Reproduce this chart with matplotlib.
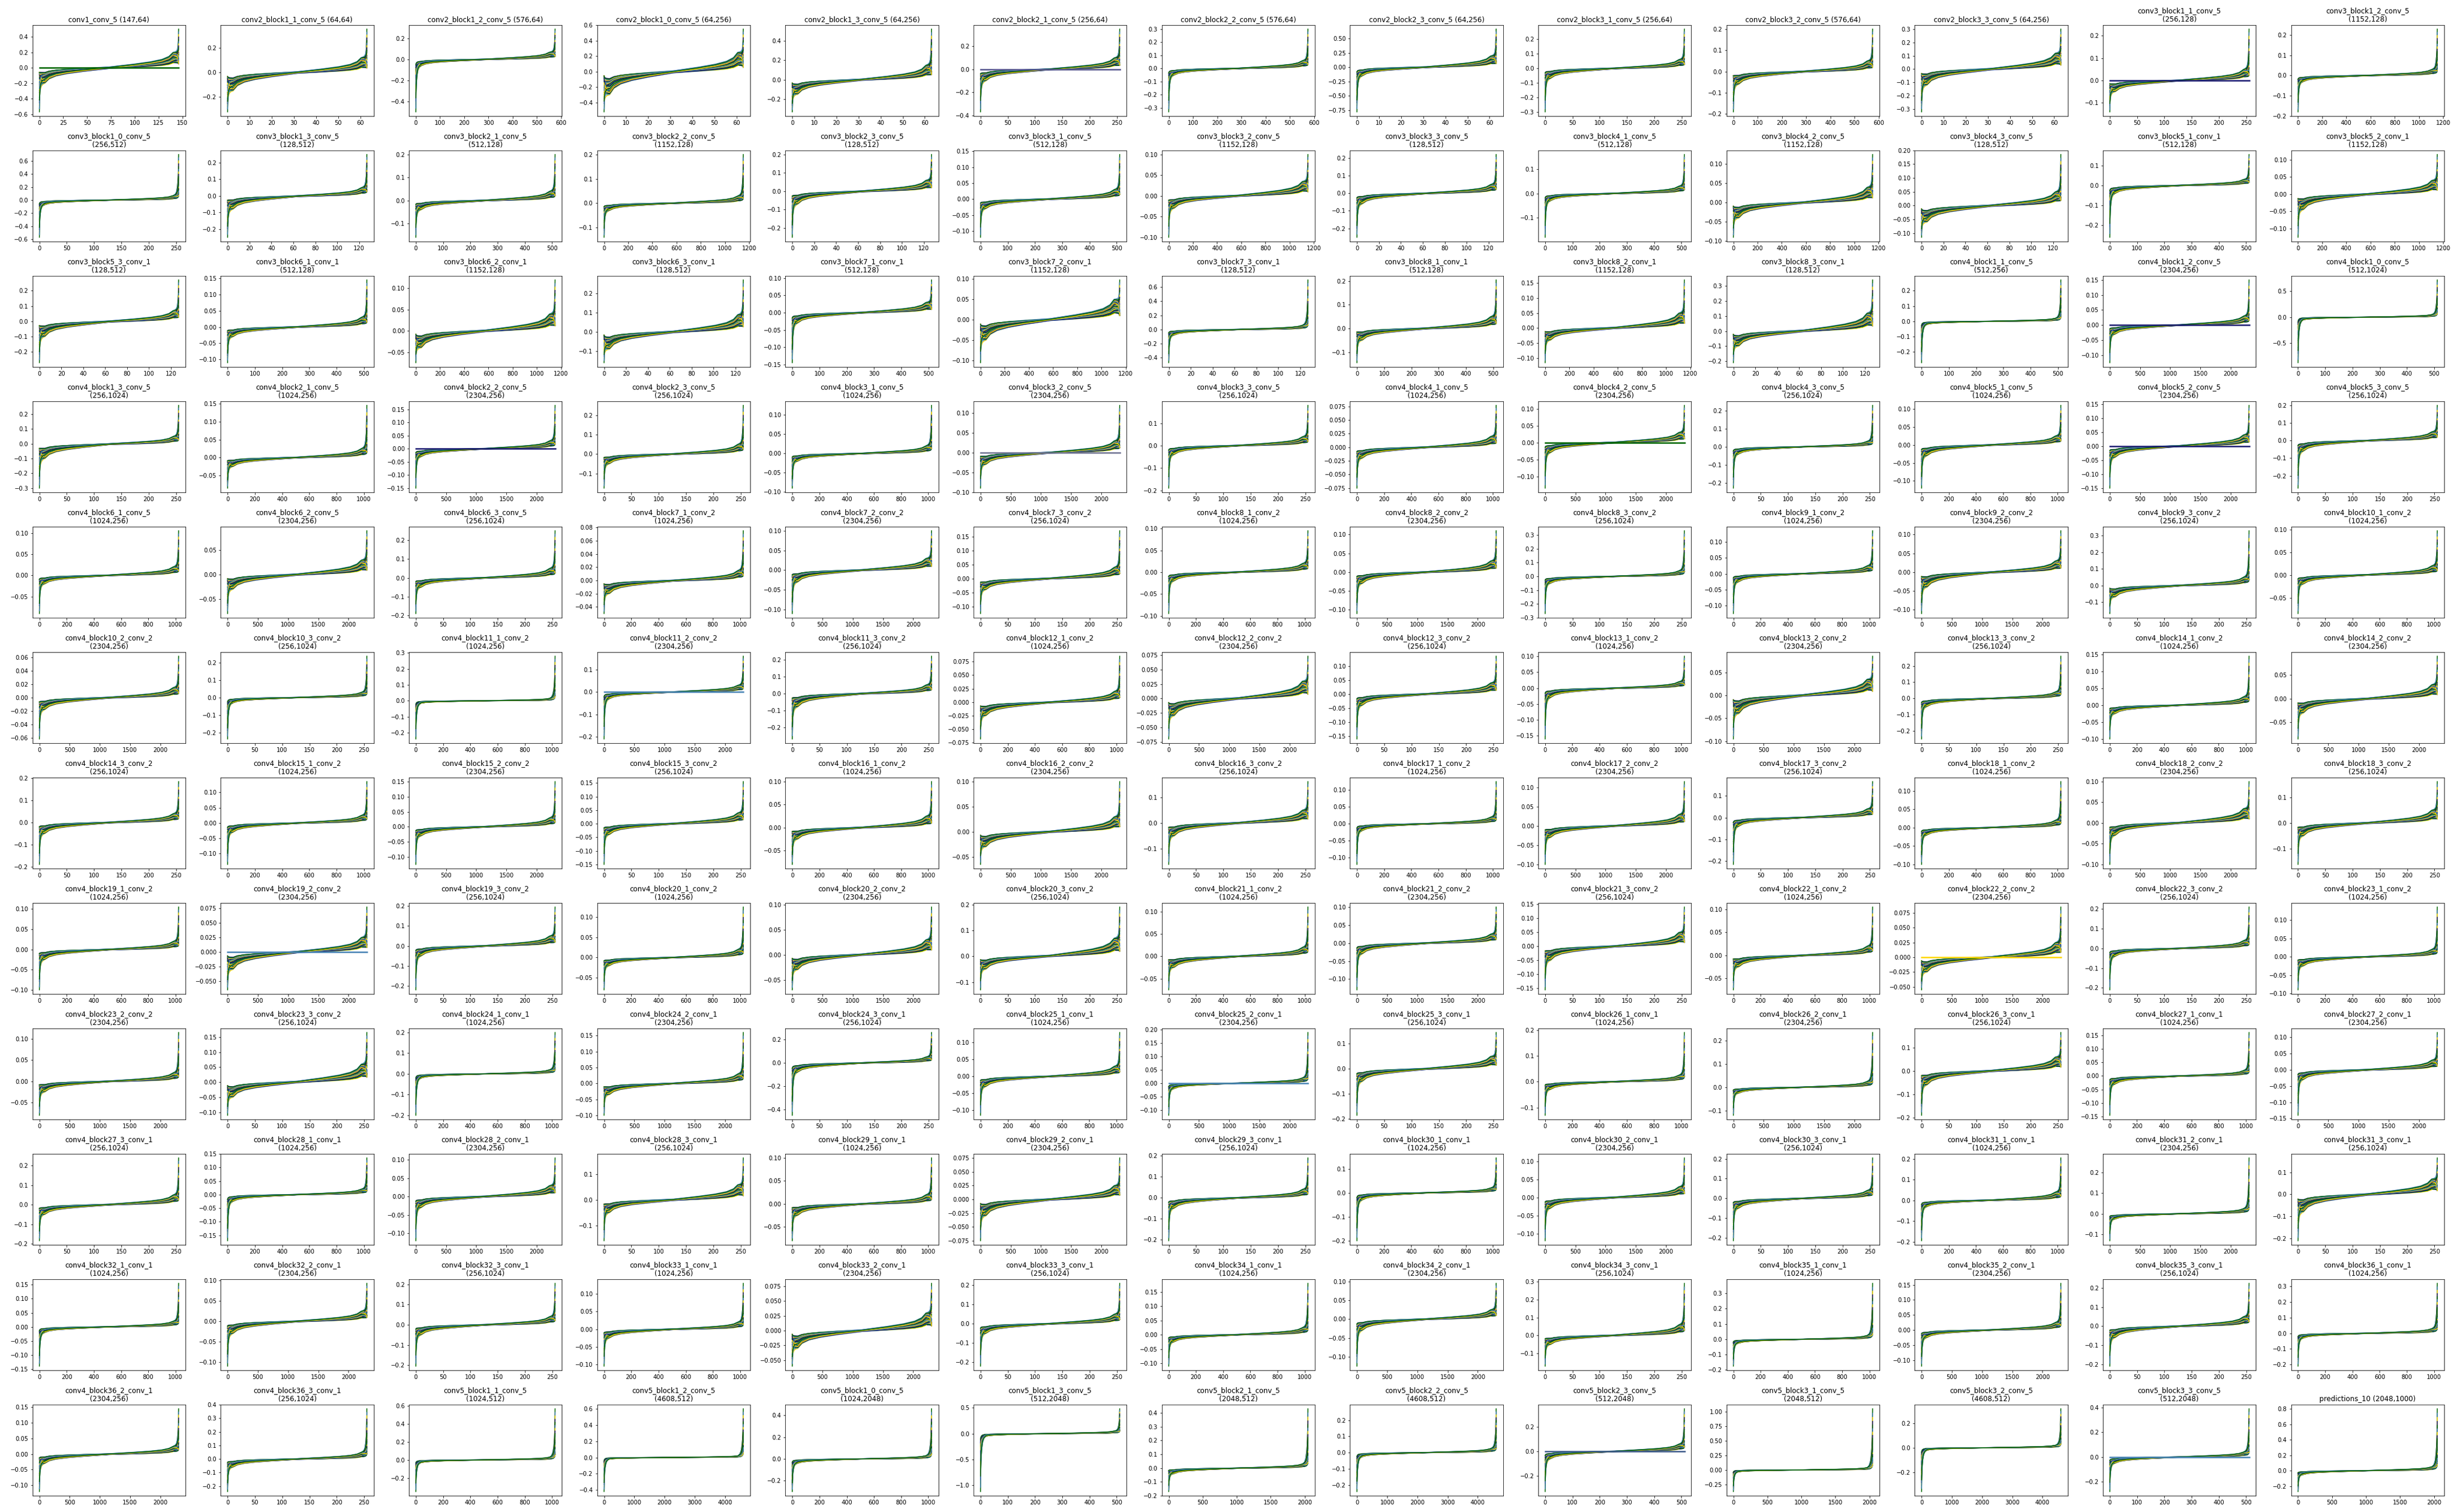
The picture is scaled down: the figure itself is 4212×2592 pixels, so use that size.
import numpy as np
import matplotlib
matplotlib.use("Agg")
import matplotlib.pyplot as plt

# ---------------- data ----------------
names = [
    "conv1_conv_5", "conv2_block1_1_conv_5", "conv2_block1_2_conv_5", "conv2_block1_0_conv_5", "conv2_block1_3_conv_5",
    "conv2_block2_1_conv_5", "conv2_block2_2_conv_5", "conv2_block2_3_conv_5", "conv2_block3_1_conv_5", "conv2_block3_2_conv_5",
    "conv2_block3_3_conv_5", "conv3_block1_1_conv_5", "conv3_block1_2_conv_5",
    "conv3_block1_0_conv_5", "conv3_block1_3_conv_5", "conv3_block2_1_conv_5", "conv3_block2_2_conv_5", "conv3_block2_3_conv_5",
    "conv3_block3_1_conv_5", "conv3_block3_2_conv_5", "conv3_block3_3_conv_5", "conv3_block4_1_conv_5", "conv3_block4_2_conv_5",
    "conv3_block4_3_conv_5", "conv3_block5_1_conv_1", "conv3_block5_2_conv_1",
    "conv3_block5_3_conv_1", "conv3_block6_1_conv_1", "conv3_block6_2_conv_1", "conv3_block6_3_conv_1", "conv3_block7_1_conv_1",
    "conv3_block7_2_conv_1", "conv3_block7_3_conv_1", "conv3_block8_1_conv_1", "conv3_block8_2_conv_1", "conv3_block8_3_conv_1",
    "conv4_block1_1_conv_5", "conv4_block1_2_conv_5", "conv4_block1_0_conv_5",
    "conv4_block1_3_conv_5", "conv4_block2_1_conv_5", "conv4_block2_2_conv_5", "conv4_block2_3_conv_5", "conv4_block3_1_conv_5",
    "conv4_block3_2_conv_5", "conv4_block3_3_conv_5", "conv4_block4_1_conv_5", "conv4_block4_2_conv_5", "conv4_block4_3_conv_5",
    "conv4_block5_1_conv_5", "conv4_block5_2_conv_5", "conv4_block5_3_conv_5",
    "conv4_block6_1_conv_5", "conv4_block6_2_conv_5", "conv4_block6_3_conv_5", "conv4_block7_1_conv_2", "conv4_block7_2_conv_2",
    "conv4_block7_3_conv_2", "conv4_block8_1_conv_2", "conv4_block8_2_conv_2", "conv4_block8_3_conv_2", "conv4_block9_1_conv_2",
    "conv4_block9_2_conv_2", "conv4_block9_3_conv_2", "conv4_block10_1_conv_2",
    "conv4_block10_2_conv_2", "conv4_block10_3_conv_2", "conv4_block11_1_conv_2", "conv4_block11_2_conv_2", "conv4_block11_3_conv_2",
    "conv4_block12_1_conv_2", "conv4_block12_2_conv_2", "conv4_block12_3_conv_2", "conv4_block13_1_conv_2", "conv4_block13_2_conv_2",
    "conv4_block13_3_conv_2", "conv4_block14_1_conv_2", "conv4_block14_2_conv_2",
    "conv4_block14_3_conv_2", "conv4_block15_1_conv_2", "conv4_block15_2_conv_2", "conv4_block15_3_conv_2", "conv4_block16_1_conv_2",
    "conv4_block16_2_conv_2", "conv4_block16_3_conv_2", "conv4_block17_1_conv_2", "conv4_block17_2_conv_2", "conv4_block17_3_conv_2",
    "conv4_block18_1_conv_2", "conv4_block18_2_conv_2", "conv4_block18_3_conv_2",
    "conv4_block19_1_conv_2", "conv4_block19_2_conv_2", "conv4_block19_3_conv_2", "conv4_block20_1_conv_2", "conv4_block20_2_conv_2",
    "conv4_block20_3_conv_2", "conv4_block21_1_conv_2", "conv4_block21_2_conv_2", "conv4_block21_3_conv_2", "conv4_block22_1_conv_2",
    "conv4_block22_2_conv_2", "conv4_block22_3_conv_2", "conv4_block23_1_conv_2",
    "conv4_block23_2_conv_2", "conv4_block23_3_conv_2", "conv4_block24_1_conv_1", "conv4_block24_2_conv_1", "conv4_block24_3_conv_1",
    "conv4_block25_1_conv_1", "conv4_block25_2_conv_1", "conv4_block25_3_conv_1", "conv4_block26_1_conv_1", "conv4_block26_2_conv_1",
    "conv4_block26_3_conv_1", "conv4_block27_1_conv_1", "conv4_block27_2_conv_1",
    "conv4_block27_3_conv_1", "conv4_block28_1_conv_1", "conv4_block28_2_conv_1", "conv4_block28_3_conv_1", "conv4_block29_1_conv_1",
    "conv4_block29_2_conv_1", "conv4_block29_3_conv_1", "conv4_block30_1_conv_1", "conv4_block30_2_conv_1", "conv4_block30_3_conv_1",
    "conv4_block31_1_conv_1", "conv4_block31_2_conv_1", "conv4_block31_3_conv_1",
    "conv4_block32_1_conv_1", "conv4_block32_2_conv_1", "conv4_block32_3_conv_1", "conv4_block33_1_conv_1", "conv4_block33_2_conv_1",
    "conv4_block33_3_conv_1", "conv4_block34_1_conv_1", "conv4_block34_2_conv_1", "conv4_block34_3_conv_1", "conv4_block35_1_conv_1",
    "conv4_block35_2_conv_1", "conv4_block35_3_conv_1", "conv4_block36_1_conv_1",
    "conv4_block36_2_conv_1", "conv4_block36_3_conv_1", "conv5_block1_1_conv_5", "conv5_block1_2_conv_5", "conv5_block1_0_conv_5",
    "conv5_block1_3_conv_5", "conv5_block2_1_conv_5", "conv5_block2_2_conv_5", "conv5_block2_3_conv_5", "conv5_block3_1_conv_5",
    "conv5_block3_2_conv_5", "conv5_block3_3_conv_5", "predictions_10",
]

shapes = [
    (147, 64), (64, 64), (576, 64), (64, 256), (64, 256), (256, 64), (576, 64), (64, 256), (256, 64), (576, 64), (64, 256), (256, 128), (1152, 128),
    (256, 512), (128, 512), (512, 128), (1152, 128), (128, 512), (512, 128), (1152, 128), (128, 512), (512, 128), (1152, 128), (128, 512), (512, 128), (1152, 128),
    (128, 512), (512, 128), (1152, 128), (128, 512), (512, 128), (1152, 128), (128, 512), (512, 128), (1152, 128), (128, 512), (512, 256), (2304, 256), (512, 1024),
    (256, 1024), (1024, 256), (2304, 256), (256, 1024), (1024, 256), (2304, 256), (256, 1024), (1024, 256), (2304, 256), (256, 1024), (1024, 256), (2304, 256), (256, 1024),
    (1024, 256), (2304, 256), (256, 1024), (1024, 256), (2304, 256), (256, 1024), (1024, 256), (2304, 256), (256, 1024), (1024, 256), (2304, 256), (256, 1024), (1024, 256),
    (2304, 256), (256, 1024), (1024, 256), (2304, 256), (256, 1024), (1024, 256), (2304, 256), (256, 1024), (1024, 256), (2304, 256), (256, 1024), (1024, 256), (2304, 256),
    (256, 1024), (1024, 256), (2304, 256), (256, 1024), (1024, 256), (2304, 256), (256, 1024), (1024, 256), (2304, 256), (256, 1024), (1024, 256), (2304, 256), (256, 1024),
    (1024, 256), (2304, 256), (256, 1024), (1024, 256), (2304, 256), (256, 1024), (1024, 256), (2304, 256), (256, 1024), (1024, 256), (2304, 256), (256, 1024), (1024, 256),
    (2304, 256), (256, 1024), (1024, 256), (2304, 256), (256, 1024), (1024, 256), (2304, 256), (256, 1024), (1024, 256), (2304, 256), (256, 1024), (1024, 256), (2304, 256),
    (256, 1024), (1024, 256), (2304, 256), (256, 1024), (1024, 256), (2304, 256), (256, 1024), (1024, 256), (2304, 256), (256, 1024), (1024, 256), (2304, 256), (256, 1024),
    (1024, 256), (2304, 256), (256, 1024), (1024, 256), (2304, 256), (256, 1024), (1024, 256), (2304, 256), (256, 1024), (1024, 256), (2304, 256), (256, 1024), (1024, 256),
    (2304, 256), (256, 1024), (1024, 512), (4608, 512), (1024, 2048), (512, 2048), (2048, 512), (4608, 512), (512, 2048), (2048, 512), (4608, 512), (512, 2048), (2048, 1000),
]

# most negative sorted weight (curve start)
y_lo = [
    -0.57, -0.32, -0.50, -0.52, -0.33, -0.37, -0.33, -0.78, -0.30, -0.19, -0.32, -0.14, -0.18,
    -0.57, -0.25, -0.16, -0.14, -0.25, -0.12, -0.10, -0.25, -0.18, -0.09, -0.115, -0.26, -0.125,
    -0.27, -0.11, -0.075, -0.16, -0.145, -0.105, -0.47, -0.145, -0.115, -0.21, -0.27, -0.125, -0.88,
    -0.30, -0.085, -0.15, -0.175, -0.09, -0.09, -0.19, -0.075, -0.135, -0.23, -0.12, -0.15, -0.27,
    -0.09, -0.08, -0.19, -0.05, -0.11, -0.125, -0.095, -0.11, -0.27, -0.125, -0.11, -0.17, -0.085,
    -0.062, -0.235, -0.24, -0.21, -0.27, -0.068, -0.07, -0.16, -0.16, -0.095, -0.25, -0.10, -0.085,
    -0.19, -0.135, -0.125, -0.15, -0.08, -0.065, -0.16, -0.12, -0.10, -0.215, -0.10, -0.10, -0.16,
    -0.10, -0.065, -0.22, -0.08, -0.07, -0.13, -0.075, -0.13, -0.155, -0.075, -0.055, -0.21, -0.09,
    -0.08, -0.11, -0.20, -0.10, -0.45, -0.115, -0.12, -0.185, -0.13, -0.12, -0.19, -0.145, -0.14,
    -0.185, -0.17, -0.12, -0.16, -0.08, -0.075, -0.205, -0.20, -0.12, -0.215, -0.195, -0.13, -0.21,
    -0.14, -0.11, -0.205, -0.105, -0.06, -0.22, -0.11, -0.125, -0.17, -0.175, -0.12, -0.21, -0.21,
    -0.12, -0.24, -0.35, -0.42, -0.30, -1.12, -0.17, -0.24, -0.33, -0.37, -0.36, -0.28, -0.27,
]

# largest sorted weight (curve end)
y_hi = [
    0.50, 0.35, 0.29, 0.55, 0.52, 0.35, 0.30, 0.67, 0.27, 0.20, 0.30, 0.23, 0.23,
    0.70, 0.25, 0.20, 0.20, 0.20, 0.14, 0.10, 0.22, 0.16, 0.125, 0.185, 0.155, 0.115,
    0.27, 0.145, 0.12, 0.27, 0.095, 0.097, 0.70, 0.205, 0.16, 0.34, 0.27, 0.15, 0.72,
    0.26, 0.145, 0.165, 0.25, 0.125, 0.12, 0.18, 0.077, 0.11, 0.23, 0.11, 0.145, 0.20,
    0.105, 0.09, 0.25, 0.075, 0.10, 0.17, 0.095, 0.11, 0.33, 0.135, 0.11, 0.33, 0.097,
    0.062, 0.235, 0.28, 0.16, 0.22, 0.085, 0.073, 0.135, 0.10, 0.085, 0.26, 0.145, 0.09,
    0.185, 0.135, 0.15, 0.155, 0.10, 0.10, 0.16, 0.125, 0.115, 0.165, 0.125, 0.10, 0.16,
    0.105, 0.077, 0.195, 0.125, 0.095, 0.19, 0.11, 0.10, 0.14, 0.105, 0.085, 0.21, 0.135,
    0.115, 0.165, 0.20, 0.16, 0.26, 0.13, 0.19, 0.145, 0.19, 0.235, 0.165, 0.16, 0.115,
    0.24, 0.135, 0.105, 0.165, 0.10, 0.075, 0.19, 0.145, 0.11, 0.205, 0.205, 0.27, 0.165,
    0.155, 0.093, 0.205, 0.13, 0.08, 0.21, 0.18, 0.095, 0.29, 0.365, 0.155, 0.225, 0.32,
    0.145, 0.37, 0.565, 0.60, 0.46, 0.48, 0.43, 0.27, 0.35, 1.05, 0.32, 0.39, 0.80,
]

# lower edge of the bundle just after the left tail (about 4 % of the rows)
knee_lo = [
    -0.20, -0.15, -0.06, -0.30, -0.15, -0.10, -0.05, -0.15, -0.07, -0.06, -0.12, -0.05, -0.03,
    -0.07, -0.08, -0.04, -0.03, -0.07, -0.03, -0.03, -0.06, -0.03, -0.04, -0.06, -0.04, -0.045,
    -0.10, -0.03, -0.04, -0.09, -0.03, -0.05, -0.08, -0.05, -0.04, -0.10, -0.02, -0.03, -0.05,
    -0.10, -0.025, -0.03, -0.05, -0.02, -0.03, -0.04, -0.02, -0.03, -0.04, -0.03, -0.04, -0.06,
    -0.02, -0.03, -0.05, -0.02, -0.03, -0.04, -0.02, -0.03, -0.05, -0.025, -0.04, -0.07, -0.02,
    -0.018, -0.03, -0.015, -0.03, -0.08, -0.025, -0.03, -0.04, -0.03, -0.04, -0.05, -0.025, -0.03,
    -0.05, -0.03, -0.03, -0.04, -0.025, -0.03, -0.05, -0.02, -0.03, -0.04, -0.02, -0.03, -0.05,
    -0.025, -0.03, -0.05, -0.02, -0.03, -0.05, -0.025, -0.03, -0.05, -0.025, -0.025, -0.04, -0.025,
    -0.025, -0.05, -0.02, -0.035, -0.08, -0.03, -0.02, -0.05, -0.03, -0.025, -0.06, -0.03, -0.03,
    -0.05, -0.025, -0.03, -0.05, -0.025, -0.03, -0.05, -0.03, -0.03, -0.05, -0.03, -0.025, -0.08,
    -0.02, -0.03, -0.05, -0.025, -0.03, -0.05, -0.025, -0.03, -0.05, -0.025, -0.025, -0.06, -0.03,
    -0.03, -0.06, -0.03, -0.02, -0.04, -0.05, -0.04, -0.025, -0.06, -0.03, -0.02, -0.05, -0.05,
]

# upper edge of the bundle just before the right tail (about 96 % of the rows)
knee_hi = [
    0.20, 0.12, 0.07, 0.25, 0.15, 0.10, 0.06, 0.20, 0.06, 0.05, 0.12, 0.05, 0.03,
    0.07, 0.05, 0.04, 0.03, 0.06, 0.03, 0.035, 0.05, 0.03, 0.04, 0.05, 0.03, 0.04,
    0.07, 0.03, 0.04, 0.09, 0.03, 0.05, 0.06, 0.05, 0.05, 0.12, 0.02, 0.03, 0.05,
    0.05, 0.025, 0.03, 0.05, 0.02, 0.03, 0.04, 0.02, 0.03, 0.03, 0.025, 0.04, 0.05,
    0.02, 0.03, 0.05, 0.015, 0.03, 0.04, 0.02, 0.03, 0.04, 0.025, 0.03, 0.05, 0.02,
    0.015, 0.03, 0.015, 0.03, 0.05, 0.02, 0.03, 0.04, 0.02, 0.035, 0.04, 0.025, 0.03,
    0.04, 0.025, 0.03, 0.04, 0.025, 0.03, 0.05, 0.02, 0.03, 0.04, 0.02, 0.035, 0.05,
    0.02, 0.025, 0.05, 0.02, 0.03, 0.07, 0.02, 0.025, 0.05, 0.02, 0.025, 0.04, 0.02,
    0.02, 0.06, 0.02, 0.03, 0.05, 0.03, 0.02, 0.05, 0.025, 0.025, 0.06, 0.02, 0.03,
    0.05, 0.02, 0.03, 0.06, 0.02, 0.025, 0.04, 0.02, 0.03, 0.04, 0.04, 0.025, 0.07,
    0.02, 0.025, 0.04, 0.02, 0.03, 0.05, 0.025, 0.025, 0.06, 0.025, 0.025, 0.05, 0.03,
    0.025, 0.05, 0.03, 0.02, 0.03, 0.05, 0.03, 0.025, 0.06, 0.04, 0.02, 0.04, 0.05,
]

# panels that contain an all-zero (dead) filter drawn as a flat line, and its colour
zero_panels = [0, 5, 11, 37, 41, 44, 47, 50, 68, 92, 101, 110, 151, 154]
zero_colors = ["#006400", "#55558f", "#191970", "#191970", "#191970", "#6f7391", "#006400",
               "#191970", "#4682b4", "#4682b4", "#ffd700", "#4682b4", "#3d5a8a", "#4682b4"]

# shape of a sorted-weight curve: fraction of the rows, and the share of the
# tail excess (left part) / the share of the knee level (plateau part)
tail_frac = [0.0, 0.002, 0.005, 0.009, 0.015, 0.025, 0.04]
tail_share = [1.0, 0.62, 0.40, 0.25, 0.13, 0.05, 0.0]
body_frac = [0.07, 0.12, 0.2, 0.32, 0.5]
body_share = [0.72, 0.52, 0.36, 0.2, 0.0]

line_colors = ["#191970", "#ffd700", "#4682b4", "#006400"]
n_curves = 28

# ---------------- drawing ----------------
fig, axes = plt.subplots(12, 13, figsize=(58.5, 36), dpi=72)
fig.subplots_adjust(left=0.0132, right=0.9948, bottom=0.0108, top=0.9835,
                    wspace=0.229, hspace=0.378)

tf = np.array(tail_frac)
ts = np.array(tail_share)
bf = np.array(body_frac)
bs = np.array(body_share)
frac = np.concatenate([tf, bf, 1 - bf[::-1][1:], 1 - tf[::-1]])

for k, ax in enumerate(axes.flat):
    n_rows, n_cols = shapes[k]
    x = frac * (n_rows - 1)
    for i in range(n_curves):
        us = ((i * 5) % n_curves) / (n_curves - 1)
        ue = ((i * 9) % n_curves) / (n_curves - 1)
        ul = ((i * 11) % n_curves) / (n_curves - 1)
        ur = ((i * 3 + 1) % n_curves) / (n_curves - 1)
        s = y_lo[k] * (0.1 + 0.9 * us ** 2.2)
        e = y_hi[k] * (0.1 + 0.9 * ue ** 2.2)
        kL = knee_lo[k] * (0.3 + 0.7 * ul)
        kR = knee_hi[k] * (0.3 + 0.7 * ur)
        mid = 0.08 * (kL + kR)
        left_tail = kL + ts * (s - kL)
        left_body = mid + bs * (kL - mid)
        right_body = mid + bs[::-1][1:] * (kR - mid)
        right_tail = kR + ts[::-1] * (e - kR)
        y = np.concatenate([left_tail, left_body, right_body, right_tail])
        ax.plot(x, y, color=line_colors[i % 4], lw=1.5)
    if k in zero_panels:
        ax.plot([0, n_rows - 1], [0, 0], color=zero_colors[zero_panels.index(k)], lw=2.5)
    shape_txt = "(%d,%d)" % (n_rows, n_cols)
    if len(names[k]) + 1 + len(shape_txt) > 30:
        title = names[k] + "\n" + shape_txt
    else:
        title = names[k] + " " + shape_txt
    ax.set_title(title, fontsize=12)

fig.savefig("out.png", dpi=72)
